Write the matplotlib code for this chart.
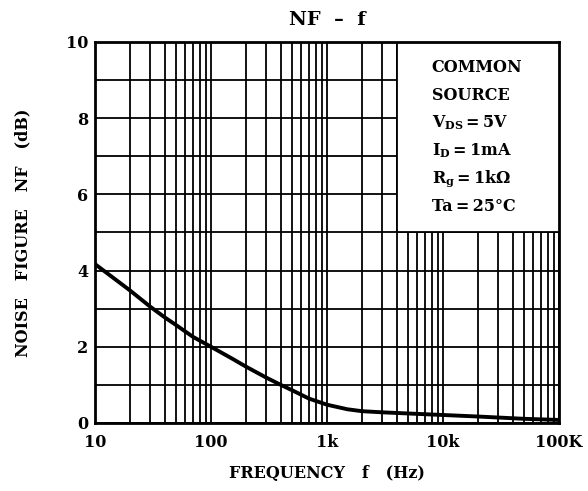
import numpy as np
import matplotlib.pyplot as plt
from matplotlib.ticker import FixedLocator, NullFormatter

plt.rcParams['font.family'] = 'DejaVu Serif'
plt.rcParams['font.weight'] = 'bold'
plt.rcParams['mathtext.fontset'] = 'custom'
plt.rcParams['mathtext.rm'] = 'DejaVu Serif:bold'
plt.rcParams['mathtext.it'] = 'DejaVu Serif:bold'
plt.rcParams['mathtext.bf'] = 'DejaVu Serif:bold'

# NF vs frequency
freq = [10, 20, 30, 40, 50, 70, 100, 150, 200, 300, 400, 500, 700, 1000, 1500,
        2000, 3000, 5000, 10000, 20000, 50000, 100000]
nf = [4.17, 3.48, 3.05, 2.77, 2.57, 2.26, 2.0, 1.7, 1.48, 1.19, 1.0, 0.86, 0.64,
      0.48, 0.36, 0.31, 0.28, 0.25, 0.21, 0.17, 0.11, 0.08]

xticks = [10, 100, 1000, 10000, 100000]
xticklabels = ['10', '100', '1k', '10k', '100K']
yticks = [0, 2, 4, 6, 8, 10]
conditions = ['COMMON', 'SOURCE', r'$V_{DS}$\u2009=\u20095V', r'$I_{D}$\u2009=\u20091mA',
              r'$R_{g}$\u2009=\u20091k$\Omega$', 'Ta\u2009=\u200925°C']
conditions = [c.replace('\\u2009', '\u2009') for c in conditions]

# white panel holding the test conditions
box_x = (4000, 100000)
box_y = (5, 10)

fig = plt.figure(figsize=(5.88, 4.91), dpi=100)
ax = fig.add_axes([0.1616, 0.1385, 0.789, 0.776])

ax.set_xscale('log')
ax.set_xlim(10, 100000)
ax.set_ylim(0, 10)

minor = [m * 10 ** e for e in range(1, 5) for m in range(2, 10)]
for f in minor + xticks:
    ax.axvline(f, color='black', lw=1.3, zorder=1)
for v in range(0, 11):
    ax.axhline(v, color='black', lw=1.3, zorder=1)

ax.fill_between(box_x, box_y[0], box_y[1], facecolor='white', edgecolor='none', zorder=2)
ax.plot(box_x, [box_y[0]] * 2, color='black', lw=1.3, zorder=2)
ax.plot([box_x[0]] * 2, box_y, color='black', lw=1.3, zorder=2)

ax.plot(freq, nf, color='black', lw=2.8, zorder=3, solid_joinstyle='round')

ax.xaxis.set_major_locator(FixedLocator(xticks))
ax.xaxis.set_minor_locator(FixedLocator(minor))
ax.xaxis.set_minor_formatter(NullFormatter())
ax.set_xticks(xticks)
ax.set_xticklabels(xticklabels)
ax.set_yticks(yticks)
ax.tick_params(which='both', length=0, labelsize=11.5)
ax.tick_params(axis='x', pad=8)
ax.tick_params(axis='y', pad=5)

for s in ax.spines.values():
    s.set_linewidth(2)
    s.set_zorder(4)

for i, t in enumerate(conditions):
    ax.text(0.726, 0.932 - i * 0.0725, t, transform=ax.transAxes, fontsize=11.5,
            ha='left', va='center', zorder=5)

ax.set_title('NF  –  f', fontsize=14, fontweight='bold', pad=12)
ax.set_xlabel('FREQUENCY   f   (Hz)', fontsize=11.5, fontweight='bold', labelpad=10)
ax.set_ylabel('NOISE   FIGURE   NF   (dB)', fontsize=11.5, fontweight='bold', labelpad=25)

fig.savefig('out.png', dpi=100)
